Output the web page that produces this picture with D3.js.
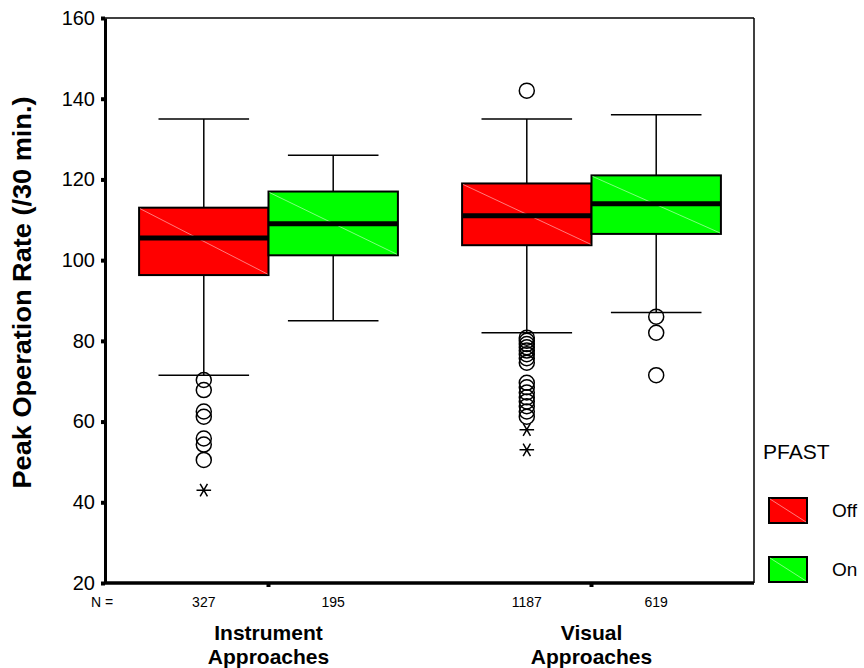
<!DOCTYPE html>
<html>
<head>
<meta charset="utf-8">
<script src="https://cdn.jsdelivr.net/npm/d3@7"></script>
<style>
  body { margin: 0; background: #fff; }
  svg text { font-family: "Liberation Sans", Arial, sans-serif; }
</style>
</head>
<body>
<svg id="chart" width="864" height="668"></svg>
<script>
// categories and series
const groupLabels = [["Instrument", "Approaches"], ["Visual", "Approaches"]];
const groups = ["Instrument Approaches", "Visual Approaches"];
const series = ["Off", "On"];
const seriesColors = ["#ff0000", "#00ff00"];
const yTicks = [20, 40, 60, 80, 100, 120, 140, 160];

// N per box [group][series]
const nCounts = [[327, 195], [1187, 619]];

// box statistics [group][series]
const lowWhisker = [[71.5, 85], [82, 87]];
const q1 = [[96.3, 101.2], [103.7, 106.5]];
const median = [[105.5, 109], [111, 114]];
const q3 = [[113, 117], [119, 121]];
const highWhisker = [[135, 126], [135, 136]];

// outliers (circles) and extremes (stars)
const outliers = [
  [[70.3, 67.8, 62.5, 61.2, 55.8, 54.3, 50.5], []],
  [[142, 80.8, 80, 79.2, 78.4, 77.6, 76.7, 75.7, 74.6, 69.6, 68.5, 67.2, 66, 65, 63.8, 62.5, 61.2], [86, 82, 71.5]]
];
const extremes = [
  [[43], []],
  [[58, 53], []]
];

const svg = d3.select("#chart");
const plot = { left: 105, right: 754, top: 18, bottom: 583 };

// scales
const y = d3.scaleLinear().domain([20, 160]).range([plot.bottom, plot.top]);
const x = d3.scaleBand().domain(groups).range([plot.left + 2, plot.right - 1]).padding(0);
const xs = d3.scaleBand().domain(series).range([0, x.bandwidth()]).paddingInner(0).paddingOuter(0.248);
const boxW = xs.bandwidth();
const capW = boxW * 0.7;

// flatten into box records
const boxes = [];
groups.forEach((g, gi) => {
  series.forEach((s, si) => {
    boxes.push({
      g, s, gi, si,
      cx: x(g) + xs(s) + boxW / 2,
      lo: lowWhisker[gi][si], q1: q1[gi][si], med: median[gi][si],
      q3: q3[gi][si], hi: highWhisker[gi][si],
      out: outliers[gi][si], ext: extremes[gi][si], n: nCounts[gi][si]
    });
  });
});

// frame: top and right
svg.append("line").attr("x1", plot.left).attr("x2", plot.right)
  .attr("y1", plot.top).attr("y2", plot.top).attr("stroke", "#000").attr("stroke-width", 1.5);
svg.append("line").attr("x1", plot.right).attr("x2", plot.right)
  .attr("y1", plot.top).attr("y2", plot.bottom).attr("stroke", "#000").attr("stroke-width", 1.5);

// boxes, whiskers, outliers
const bx = svg.append("g");
boxes.forEach(b => {
  const gb = bx.append("g");
  gb.append("line").attr("x1", b.cx).attr("x2", b.cx).attr("y1", y(b.hi)).attr("y2", y(b.q3))
    .attr("stroke", "#000").attr("stroke-width", 1.5);
  gb.append("line").attr("x1", b.cx).attr("x2", b.cx).attr("y1", y(b.q1)).attr("y2", y(b.lo))
    .attr("stroke", "#000").attr("stroke-width", 1.5);
  [b.hi, b.lo].forEach(v => {
    gb.append("line").attr("x1", b.cx - capW / 2).attr("x2", b.cx + capW / 2)
      .attr("y1", y(v)).attr("y2", y(v)).attr("stroke", "#000").attr("stroke-width", 1.5);
  });
  const x0 = b.cx - boxW / 2;
  gb.append("rect").attr("x", x0).attr("y", y(b.q3)).attr("width", boxW)
    .attr("height", y(b.q1) - y(b.q3)).attr("fill", seriesColors[b.si])
    .attr("stroke", "#000").attr("stroke-width", 2);
  // faint diagonal artefact
  gb.append("line").attr("x1", x0 + 1).attr("y1", y(b.q3) + 1).attr("x2", x0 + boxW - 1).attr("y2", y(b.q1) - 1)
    .attr("stroke", b.si === 0 ? "#ff9a9a" : "#a0ffa0").attr("stroke-width", 0.8);
  gb.append("line").attr("x1", x0).attr("x2", x0 + boxW).attr("y1", y(b.med)).attr("y2", y(b.med))
    .attr("stroke", "#000").attr("stroke-width", 5);
  gb.selectAll("circle").data(b.out).join("circle")
    .attr("cx", b.cx).attr("cy", d => y(d)).attr("r", 7.5)
    .attr("fill", "none").attr("stroke", "#000").attr("stroke-width", 1.5);
  gb.selectAll("path.ext").data(b.ext).join("path").attr("class", "ext")
    .attr("d", d3.symbol(d3.symbolAsterisk, 150))
    .attr("transform", d => `translate(${b.cx},${y(d)}) rotate(90)`)
    .attr("fill", "none").attr("stroke", "#000").attr("stroke-width", 1.5);
});

// y axis
const yAxis = svg.append("g").attr("transform", `translate(${plot.left},0)`)
  .call(d3.axisLeft(y).tickValues(yTicks).tickSize(4).tickPadding(6).tickSizeOuter(0));
yAxis.select(".domain").attr("stroke-width", 3);
yAxis.selectAll(".tick line").attr("stroke-width", 4);
yAxis.selectAll(".tick text").attr("font-size", 20).attr("fill", "#000")
  .style("font-family", '"Liberation Sans", Arial, sans-serif');

// x axis
const xAxis = svg.append("g").attr("transform", `translate(0,${plot.bottom})`)
  .call(d3.axisBottom(x).tickSize(4).tickSizeOuter(0).tickFormat(""));
xAxis.select(".domain").attr("stroke-width", 3.5).attr("d", `M${plot.left},0H${plot.right}`);
xAxis.selectAll(".tick line").attr("stroke-width", 4);

// N labels
svg.append("text").attr("x", 91).attr("y", 607).attr("font-size", 14).text("N =");
svg.selectAll("text.n").data(boxes).join("text").attr("class", "n")
  .attr("x", d => d.cx).attr("y", 607).attr("text-anchor", "middle")
  .attr("font-size", 14).text(d => d.n);

// category labels
groups.forEach((g, gi) => {
  const t = svg.append("text").attr("x", x(g) + x.bandwidth() / 2).attr("y", 640)
    .attr("text-anchor", "middle").attr("font-size", 21).attr("font-weight", "bold");
  groupLabels[gi].forEach((l, li) => {
    t.append("tspan").attr("x", x(g) + x.bandwidth() / 2).attr("dy", li === 0 ? 0 : 24).text(l);
  });
});

// y title
svg.append("text")
  .attr("transform", `translate(31,${(plot.top + plot.bottom) / 2 - 8}) rotate(-90)`)
  .attr("text-anchor", "middle").attr("font-size", 25).attr("font-weight", "bold")
  .attr("textLength", 392).attr("lengthAdjust", "spacingAndGlyphs")
  .text("Peak Operation Rate (/30 min.)");

// legend
const lg = svg.append("g");
lg.append("text").attr("x", 763).attr("y", 459).attr("font-size", 21).text("PFAST");
series.forEach((s, i) => {
  const yy = 498 + i * 59;
  lg.append("rect").attr("x", 769).attr("y", yy).attr("width", 38).attr("height", 25)
    .attr("fill", seriesColors[i]).attr("stroke", "#000").attr("stroke-width", 2);
  lg.append("line").attr("x1", 770).attr("y1", yy + 1).attr("x2", 806).attr("y2", yy + 24)
    .attr("stroke", i === 0 ? "#ff9a9a" : "#a0ffa0").attr("stroke-width", 0.8);
  lg.append("text").attr("x", 832).attr("y", yy + 19).attr("font-size", 19).text(s);
});
</script>
</body>
</html>
